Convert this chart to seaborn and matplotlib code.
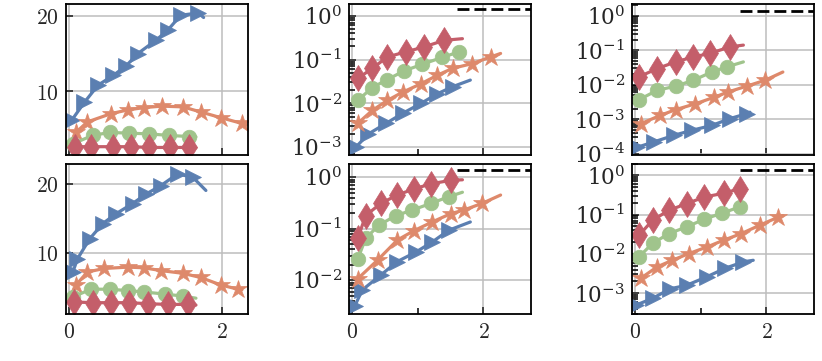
import matplotlib
matplotlib.use("Agg")
import matplotlib.pyplot as plt
import matplotlib.ticker as mticker
import seaborn as sns

# ---- top-left panel (linear) ----
tl_blue_x = [0.04, 0.20, 0.38, 0.58, 0.75, 0.90, 1.14, 1.29, 1.46, 1.69, 1.76]
tl_blue_y = [6.2, 8.5, 10.8, 12.1, 13.4, 15.0, 16.8, 18.1, 20.1, 20.4, 19.8]
tl_orange_x = [0.09, 0.24, 0.55, 0.77, 0.98, 1.21, 1.49, 1.73, 1.99, 2.26, 2.32]
tl_orange_y = [4.5, 5.9, 7.0, 7.5, 7.8, 8.0, 7.9, 7.2, 6.45, 5.7, 5.5]
tl_green_x = [0.05, 0.31, 0.53, 0.79, 1.05, 1.31, 1.57, 1.66]
tl_green_y = [3.0, 4.1, 4.5, 4.4, 4.3, 4.1, 3.95, 3.9]
tl_red_x = [0.08, 0.29, 0.57, 0.81, 1.05, 1.32, 1.57, 1.66]
tl_red_y = [2.6, 2.6, 2.6, 2.6, 2.5, 2.5, 2.5, 2.45]

# ---- bottom-left panel (linear) ----
bl_blue_x = [0.05, 0.11, 0.27, 0.44, 0.61, 0.83, 1.01, 1.20, 1.42, 1.62, 1.79]
bl_blue_y = [7.2, 9.1, 12.0, 14.2, 15.6, 17.1, 18.5, 19.7, 21.4, 20.9, 19.0]
bl_orange_x = [0.09, 0.24, 0.46, 0.77, 0.98, 1.20, 1.49, 1.72, 1.99, 2.21, 2.26]
bl_orange_y = [5.3, 7.2, 7.7, 7.9, 7.8, 7.4, 7.0, 6.4, 5.3, 4.7, 4.6]
bl_green_x = [0.05, 0.29, 0.53, 0.77, 0.98, 1.25, 1.49, 1.66]
bl_green_y = [3.6, 4.7, 4.7, 4.5, 4.3, 4.0, 3.7, 3.4]
bl_red_x = [0.07, 0.31, 0.55, 0.79, 1.03, 1.29, 1.55, 1.66]
bl_red_y = [2.85, 2.75, 2.75, 2.75, 2.6, 2.5, 2.5, 2.4]

# ---- top-middle panel (log) ----
tm_blue_x = [0.06, 0.25, 0.52, 0.77, 1.05, 1.30, 1.53, 1.80]
tm_blue_y = [0.001, 0.002, 0.0035, 0.0059, 0.01, 0.0166, 0.024, 0.034]
tm_orange_x = [0.09, 0.31, 0.54, 0.77, 1.05, 1.30, 1.53, 1.83, 2.11, 2.26]
tm_orange_y = [0.0035, 0.0069, 0.0117, 0.018, 0.028, 0.044, 0.063, 0.081, 0.115, 0.138]
tm_green_x = [0.09, 0.31, 0.54, 0.79, 1.07, 1.37, 1.63, 1.68]
tm_green_y = [0.0117, 0.023, 0.035, 0.055, 0.078, 0.112, 0.15, 0.16]
tm_red_x = [0.09, 0.31, 0.54, 0.82, 1.10, 1.40, 1.68]
tm_red_y = [0.037, 0.063, 0.115, 0.15, 0.195, 0.275, 0.30]

# ---- bottom-middle panel (log) ----
bm_blue_x = [0.04, 0.16, 0.44, 0.69, 0.97, 1.22, 1.47, 1.80]
bm_blue_y = [0.0031, 0.0065, 0.0126, 0.023, 0.035, 0.055, 0.093, 0.135]
bm_orange_x = [0.09, 0.39, 0.69, 0.94, 1.22, 1.50, 1.70, 1.98, 2.26]
bm_orange_y = [0.0107, 0.0245, 0.060, 0.091, 0.135, 0.195, 0.23, 0.31, 0.45]
bm_green_x = [0.09, 0.21, 0.41, 0.67, 0.92, 1.20, 1.48, 1.68]
bm_green_y = [0.026, 0.065, 0.117, 0.18, 0.23, 0.31, 0.42, 0.51]
bm_red_x = [0.09, 0.21, 0.44, 0.69, 0.94, 1.20, 1.50, 1.68]
bm_red_y = [0.065, 0.18, 0.31, 0.45, 0.59, 0.74, 0.87, 0.89]

# ---- top-right panel (log) ----
tr_blue_x = [0.04, 0.29, 0.59, 0.87, 1.17, 1.45, 1.70, 1.75]
tr_blue_y = [0.000155, 0.00022, 0.00034, 0.00048, 0.00066, 0.00105, 0.00145, 0.0016]
tr_orange_x = [0.09, 0.39, 0.62, 0.92, 1.20, 1.42, 1.70, 1.98, 2.25]
tr_orange_y = [0.00074, 0.0013, 0.0019, 0.0028, 0.0043, 0.0062, 0.0091, 0.0135, 0.0234]
tr_green_x = [0.065, 0.34, 0.62, 0.89, 1.17, 1.40, 1.65]
tr_green_y = [0.0037, 0.0069, 0.0091, 0.0135, 0.0234, 0.033, 0.046]
tr_red_x = [0.065, 0.34, 0.62, 0.89, 1.14, 1.45, 1.65]
tr_red_y = [0.017, 0.0295, 0.046, 0.064, 0.081, 0.126, 0.141]

# ---- bottom-right panel (log) ----
br_blue_x = [0.02, 0.27, 0.54, 0.79, 1.09, 1.37, 1.65, 1.80]
br_blue_y = [0.0005, 0.00074, 0.0013, 0.0016, 0.0026, 0.0043, 0.0063, 0.0069]
br_orange_x = [0.09, 0.34, 0.57, 0.82, 1.10, 1.35, 1.62, 1.90, 2.17, 2.25]
br_orange_y = [0.0024, 0.0047, 0.0069, 0.0102, 0.0151, 0.0224, 0.033, 0.054, 0.085, 0.095]
br_green_x = [0.065, 0.27, 0.52, 0.79, 1.05, 1.33, 1.60, 1.66]
br_green_y = [0.0085, 0.0186, 0.033, 0.049, 0.076, 0.11, 0.158, 0.165]
br_red_x = [0.065, 0.27, 0.52, 0.79, 1.05, 1.35, 1.60, 1.66]
br_red_y = [0.030, 0.072, 0.13, 0.19, 0.28, 0.35, 0.46, 0.50]

# dashed reference line in the log panels
ref_x = [1.6, 2.8]
ref_y = [1.4, 1.4]

sns.set_style("ticks")
plt.rcParams.update({
    "font.family": "DejaVu Serif",
    "mathtext.fontset": "cm",
    "font.size": 15.5,
    "axes.linewidth": 1.3,
    "xtick.direction": "in",
    "ytick.direction": "in",
    "xtick.major.size": 5,
    "ytick.major.size": 5,
    "xtick.major.width": 1.2,
    "ytick.major.width": 1.2,
    "xtick.major.pad": 5,
    "ytick.major.pad": 5,
    "grid.color": "#bdbdbd",
    "grid.linewidth": 1.1,
})

colors = ["#5b7fb1", "#de896b", "#a0c48c", "#c45e6a"]
markers = [">", "*", "o", "d"]
sizes = [11, 13.5, 10.5, 13]


def draw(ax, xs, ys, i):
    # line through all points, markers on all but the line end
    sns.lineplot(x=xs, y=ys, ax=ax, color=colors[i], lw=2.3, marker=markers[i],
                 markersize=sizes[i], markeredgecolor=colors[i], markeredgewidth=0.5,
                 markevery=slice(0, len(xs) - 1), estimator=None, sort=False)


fig, axes = plt.subplots(2, 3, figsize=(8.22, 3.61), dpi=100)
fig.subplots_adjust(left=0.0803, right=0.990, bottom=0.130, top=0.989, wspace=0.555, hspace=0.06)

panels = [
    (axes[0, 0], [(tl_blue_x, tl_blue_y), (tl_orange_x, tl_orange_y), (tl_green_x, tl_green_y), (tl_red_x, tl_red_y)]),
    (axes[1, 0], [(bl_blue_x, bl_blue_y), (bl_orange_x, bl_orange_y), (bl_green_x, bl_green_y), (bl_red_x, bl_red_y)]),
    (axes[0, 1], [(tm_blue_x, tm_blue_y), (tm_orange_x, tm_orange_y), (tm_green_x, tm_green_y), (tm_red_x, tm_red_y)]),
    (axes[1, 1], [(bm_blue_x, bm_blue_y), (bm_orange_x, bm_orange_y), (bm_green_x, bm_green_y), (bm_red_x, bm_red_y)]),
    (axes[0, 2], [(tr_blue_x, tr_blue_y), (tr_orange_x, tr_orange_y), (tr_green_x, tr_green_y), (tr_red_x, tr_red_y)]),
    (axes[1, 2], [(br_blue_x, br_blue_y), (br_orange_x, br_orange_y), (br_green_x, br_green_y), (br_red_x, br_red_y)]),
]

for ax, series in panels:
    for i, (xs, ys) in enumerate(series):
        draw(ax, xs, ys, i)

mathfmt = mticker.FuncFormatter(lambda v, p: f"${v:g}$")

# left column: linear
for ax, ylim in zip(axes[:, 0], [(1.56, 21.6), (1.1, 22.9)]):
    ax.set_xlim(-0.04, 2.34)
    ax.set_ylim(*ylim)
    ax.yaxis.set_major_locator(mticker.FixedLocator([10, 20]))
    ax.yaxis.set_major_formatter(mathfmt)

# middle / right columns: log
log_lims = {(0, 1): (6.8e-4, 1.86), (1, 1): (2.2e-3, 1.84), (0, 2): (9.5e-5, 2.2), (1, 2): (2.95e-4, 2.0)}
for (r, c), ylim in log_lims.items():
    ax = axes[r, c]
    sns.lineplot(x=ref_x, y=ref_y, ax=ax, color="black", lw=2, dashes=False,
                 linestyle=(0, (4.3, 1.8)), estimator=None, sort=False)
    ax.set_yscale("log")
    ax.set_xlim(-0.045, 2.72)
    ax.set_ylim(*ylim)
    ax.yaxis.set_major_locator(mticker.LogLocator(base=10, numticks=30))
    ax.yaxis.set_minor_locator(mticker.LogLocator(base=10, subs=[2, 3, 4, 5, 6, 7, 8, 9], numticks=30))
    ax.yaxis.set_minor_formatter(mticker.NullFormatter())
    ax.xaxis.set_minor_locator(mticker.FixedLocator([1]))
    ax.tick_params(which="minor", direction="in", left=True, bottom=True,
                   length=4, width=1.1, color="black")

for ax in axes.flat:
    ax.xaxis.set_major_locator(mticker.FixedLocator([0, 2]))
    ax.xaxis.set_major_formatter(mathfmt)
    ax.grid(True, which="major")
    ax.set_xlabel("")
    ax.set_ylabel("")
    for s in ax.spines.values():
        s.set_visible(True)
        s.set_color("black")

for ax in axes[0]:
    ax.tick_params(labelbottom=False)

plt.savefig("out.png", dpi=100)
